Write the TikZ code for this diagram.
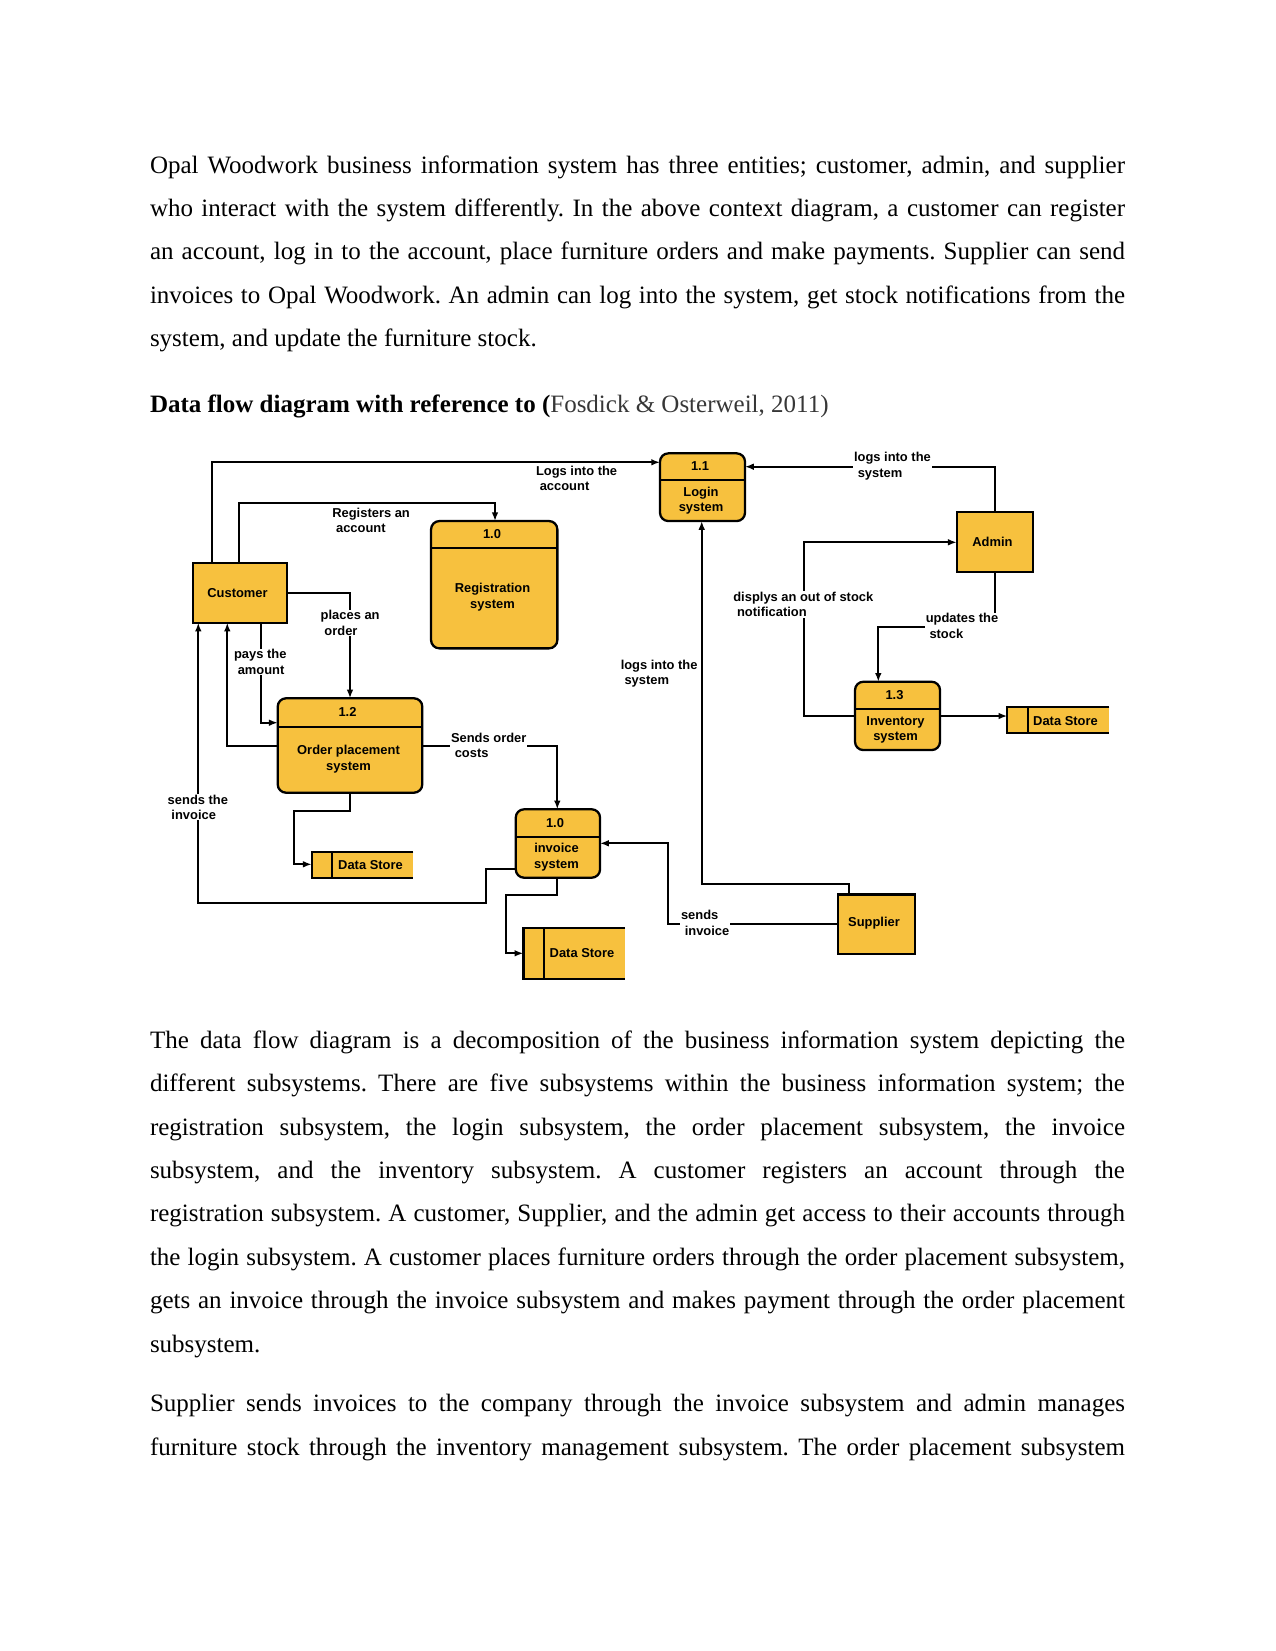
\documentclass[tikz,border=0pt]{standalone}
\usepackage{fontspec}
\setmainfont{Liberation Serif}
\newfontfamily\diagfont{Liberation Sans}
\usetikzlibrary{arrows.meta}
\definecolor{dfy}{RGB}{247,193,62}
\definecolor{citegray}{RGB}{55,55,55}
\frenchspacing
\begin{document}
\begin{tikzpicture}[x=0.48pt,y=-0.48pt,
  every node/.style={inner sep=0pt,outer sep=0pt},
  flow/.style={line width=1pt,-{Latex[length=4.2pt,width=3.2pt]}},
  ent/.style={draw,line width=1.1pt,fill=dfy,rectangle},
  proc/.style={draw,line width=1.1pt,fill=dfy,rounded corners=4pt},
  dsbox/.style={fill=dfy},
  dsline/.style={line width=1.1pt},
  divider/.style={line width=1.1pt},
  dtxt/.style={font=\diagfont\bfseries\fontsize{6.2}{7.5}\selectfont,align=center},
  lbl/.style={font=\diagfont\bfseries\fontsize{6.2}{7.5}\selectfont,align=left,anchor=west,inner xsep=0.5pt,inner ysep=0.3pt},
  lblw/.style={lbl,fill=white},
  body/.style={anchor=base west,font=\fontsize{12}{14}\selectfont}]

\useasboundingbox (0,0) rectangle (1275,1651);

% ---------- body text ----------
\node[body] (p1a) at (150,173.3) {\makebox[468pt][s]{Opal Woodwork business information system has three entities; customer, admin, and supplier}};
\node[body] (p1b) at (150,216.6) {\makebox[468pt][s]{who interact with the system differently. In the above context diagram, a customer can register}};
\node[body] (p1c) at (150,259.9) {\makebox[468pt][s]{an account, log in to the account, place furniture orders and make payments. Supplier can send}};
\node[body] (p1d) at (150,303.2) {\makebox[468pt][s]{invoices to Opal Woodwork. An admin can log into the system, get stock notifications from the}};
\node[body] (p1e) at (150,346.5) {system, and update the furniture stock.};
\node[body] (head) at (150,412.5) {\textbf{Data flow diagram with reference to (}{\color{citegray}Fosdick \& Osterweil, 2011)}};

\node[body] (q1) at (150,1048.3) {\makebox[468pt][s]{The data flow diagram is a decomposition of the business information system depicting the}};
\node[body] (q2) at (150,1091.7) {\makebox[468pt][s]{different subsystems. There are five subsystems within the business information system; the}};
\node[body] (q3) at (150,1135.1) {\makebox[468pt][s]{registration subsystem, the login subsystem, the order placement subsystem, the invoice}};
\node[body] (q4) at (150,1178.5) {\makebox[468pt][s]{subsystem, and the inventory subsystem. A customer registers an account through the}};
\node[body] (q5) at (150,1221.9) {\makebox[468pt][s]{registration subsystem. A customer, Supplier, and the admin get access to their accounts through}};
\node[body] (q6) at (150,1265.3) {\makebox[468pt][s]{the login subsystem. A customer places furniture orders through the order placement subsystem,}};
\node[body] (q7) at (150,1308.7) {\makebox[468pt][s]{gets an invoice through the invoice subsystem and makes payment through the order placement}};
\node[body] (q8) at (150,1352.1) {subsystem.};
\node[body] (r1) at (150,1411.7) {\makebox[468pt][s]{Supplier sends invoices to the company through the invoice subsystem and admin manages}};
\node[body] (r2) at (150,1455) {\makebox[468pt][s]{furniture stock through the inventory management subsystem. The order placement subsystem}};

% ---------- entities ----------
\node[ent,minimum width=93.4*0.48pt,minimum height=59.4*0.48pt] (cust) at (240,593) {};
\node[dtxt] (custt) at (237.5,593) {Customer};
\node[ent,minimum width=76.6*0.48pt,minimum height=59.4*0.48pt] (admin) at (995,542) {};
\node[dtxt] (admint) at (992.5,542) {Admin};
\node[ent,minimum width=77*0.48pt,minimum height=59.7*0.48pt] (sup) at (876.2,924.2) {};
\node[dtxt] (supt) at (874,923.5) {Supplier};

% ---------- processes ----------
\node[proc,minimum width=126.3*0.48pt,minimum height=127.3*0.48pt] (reg) at (494.2,584.7) {};
\draw[divider] (reg.west |- 0,547.7) -- (reg.east |- 0,547.7);
\node[dtxt] (regn) at (492,533.6) {1.0};
\node[dtxt] (regt) at (492.5,597.2) {Registration\\system};

\node[proc,minimum width=85*0.48pt,minimum height=67.7*0.48pt] (login) at (702.5,487.2) {};
\draw[divider] (login.west |- 0,480) -- (login.east |- 0,480);
\node[dtxt] (loginn) at (700,466) {1.1};
\node[dtxt] (logint) at (701,500.5) {Login\\system};

\node[proc,minimum width=144.6*0.48pt,minimum height=94.4*0.48pt] (ord) at (350,745.5) {};
\draw[divider] (ord.west |- 0,726.7) -- (ord.east |- 0,726.7);
\node[dtxt] (ordn) at (347.5,712) {1.2};
\node[dtxt] (ordt) at (348.5,758.9) {Order placement\\system};

\node[proc,minimum width=84.3*0.48pt,minimum height=68.4*0.48pt] (inv) at (557.9,843.5) {};
\draw[divider] (inv.west |- 0,836.7) -- (inv.east |- 0,836.7);
\node[dtxt] (invn) at (555,822.6) {1.0};
\node[dtxt] (invt2) at (556.5,856.9) {invoice\\system};

\node[proc,minimum width=85*0.48pt,minimum height=68.3*0.48pt] (invt) at (897.5,715.9) {};
\draw[divider] (invt.west |- 0,709.3) -- (invt.east |- 0,709.3);
\node[dtxt] (invtn) at (894.5,694.6) {1.3};
\node[dtxt] (invtt) at (895.5,729.8) {Inventory\\system};

% ---------- data stores ----------
\node[dsbox,minimum width=101.6*0.48pt,minimum height=26*0.48pt] (ds1) at (362.5,864.7) {};
\draw[dsline] (ds1.north east) -- (ds1.north west) -- (ds1.south west) -- (ds1.south east);
\draw[dsline] (ds1.north -| 332.3,0) -- (ds1.south -| 332.3,0);
\node[dtxt] (ds1t) at (370.5,864.7) {Data Store};

\node[dsbox,minimum width=101.7*0.48pt,minimum height=51*0.48pt] (ds2) at (574.2,953.8) {};
\draw[dsline] (ds2.north east) -- (ds2.north west) -- (ds2.south west) -- (ds2.south east);
\draw[dsline] (ds2.north -| 544,0) -- (ds2.south -| 544,0);
\node[dtxt] (ds2t) at (582,952.7) {Data Store};

\node[dsbox,minimum width=102*0.48pt,minimum height=26*0.48pt] (ds3) at (1058.3,720.3) {};
\draw[dsline] (ds3.north east) -- (ds3.north west) -- (ds3.south west) -- (ds3.south east);
\draw[dsline] (ds3.north -| 1027.7,0) -- (ds3.south -| 1027.7,0);
\node[dtxt] (ds3t) at (1065.5,720.7) {Data Store};

% ---------- flows ----------
\draw[flow] (cust.north -| 211.7,0) -- (211.7,462.3) -- (login.west |- 0,462.3);
\draw[flow] (cust.north -| 239.3,0) |- (495,502.7) -- (reg.north -| 495,0);
\draw[flow] (cust.east |- 0,593.3) -| (ord.north -| 350,0);
\draw[flow] (cust.south -| 260.7,0) -- (260.7,722.7) -- (ord.west |- 0,722.7);
\draw[flow] (ord.west |- 0,746) -| (cust.south -| 227.3,0);
\draw[flow] (ord.south -| 350,0) -- (350,810.7) -| (294,864.3) -- (ds1.west |- 0,864.3);
\draw[flow] (ord.east |- 0,746) -| (inv.north -| 557.3,0);
\draw[flow] (inv.west |- 0,869) -| (485.7,902.7) -| (cust.south -| 198.3,0);
\draw[flow] (inv.south -| 557.3,0) -- (557.3,895) -| (506,953.3) -- (ds2.west |- 0,953.3);
\draw[flow] (sup.west |- 0,924) -| (668.3,843.3) -- (inv.east |- 0,843.3);
\draw[flow] (sup.north -| 849.3,0) |- (701.7,884.3) -- (login.south -| 701.7,0);
\draw[flow] (admin.north -| 995,0) |- (login.east |- 0,466.7);
\draw[flow] (invt.west |- 0,716) -| (804,542.3) -- (admin.west |- 0,542.3);
\draw[flow] (admin.south -| 995,0) |- (878.3,627.3) -- (invt.north -| 878.3,0);
\draw[flow] (invt.east |- 0,716) -- (ds3.west |- 0,716);

% ---------- flow labels ----------
\node[lbl] (l1) at (535,478.5) {Logs into the\\\hspace{1.8pt}account};
\node[lbl] (l2) at (331.3,520.5) {Registers an\\\hspace{1.8pt}account};
\node[lblw] (l3) at (319.7,622.8) {places an\\\hspace{1.8pt}order};
\node[lblw] (l4) at (233,662) {pays the\\\hspace{1.8pt}amount};
\node[lblw] (l5) at (450,745.3) {Sends order\\\hspace{1.8pt}costs};
\node[lblw] (l6) at (166.7,807.2) {sends the\\\hspace{1.8pt}invoice};
\node[lbl] (l7) at (619.7,673.5) {logs into the\\\hspace{1.8pt}system};
\node[lblw] (l8) at (680,922.8) {sends\\\hspace{1.8pt}invoice};
\node[lblw] (l9) at (853,466.2) {logs into the\\\hspace{1.8pt}system};
\node[lblw] (l10) at (732.3,604.5) {displys an out of stock\\\hspace{1.8pt}notification};
\node[lblw] (l11) at (924.7,625.8) {updates the\\\hspace{1.8pt}stock};
\end{tikzpicture}
\end{document}
